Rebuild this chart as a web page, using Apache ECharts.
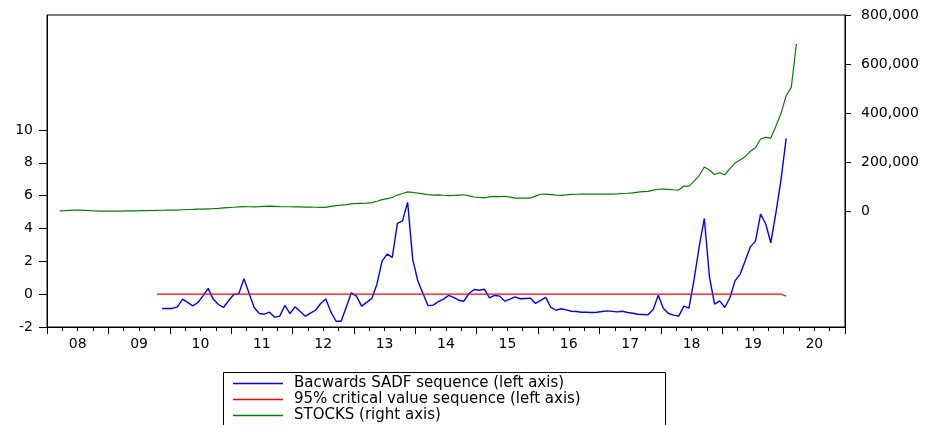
<!DOCTYPE html>
<html>
<head>
<meta charset="utf-8">
<script src="https://cdn.jsdelivr.net/npm/echarts@6/dist/echarts.min.js"></script>
<style>html,body{margin:0;padding:0;background:#fff}#c{width:943px;height:425px}</style>
</head>
<body>
<div id="c"></div>
<script>
// ---- data (monthly observations) ----
const sadfStart = [2009, 11];
const sadf = [
  -0.87,-0.87,-0.87,-0.77,-0.30,-0.50,-0.71,-0.51,-0.10,0.35,-0.30,-0.63,
  -0.81,-0.40,-0.02,0.02,0.94,0.05,-0.81,-1.18,-1.22,-1.10,-1.40,-1.34,
  -0.69,-1.18,-0.77,-1.05,-1.34,-1.16,-0.98,-0.57,-0.30,-1.08,-1.65,-1.65,
  -0.80,0.08,-0.12,-0.73,-0.50,-0.26,0.61,2.01,2.44,2.24,4.31,4.47,
  5.59,2.10,0.80,0.04,-0.70,-0.67,-0.45,-0.30,-0.08,-0.20,-0.37,-0.43,
  0.04,0.28,0.24,0.30,-0.22,-0.08,-0.12,-0.43,-0.30,-0.16,-0.28,-0.26,
  -0.24,-0.57,-0.38,-0.20,-0.81,-0.98,-0.89,-0.96,-1.04,-1.06,-1.10,-1.10,
  -1.12,-1.10,-1.06,-1.02,-1.05,-1.08,-1.04,-1.12,-1.16,-1.22,-1.24,-1.26,
  -0.93,-0.06,-0.87,-1.18,-1.28,-1.34,-0.73,-0.85,0.90,2.90,4.61,1.06,
  -0.61,-0.41,-0.81,-0.22,0.81,1.22,2.03,2.88,3.23,4.88,4.27,3.13,
  4.96,6.99,9.49
];
const critStart = [2009, 10];
const crit = [
  0,0,0,0,0,0,0,0,0,0,0,0,
  0,0,0,0,0,0,0,0,0,0,0,0,
  0,0,0,0,0,0,0,0,0,0,0,0,
  0,0,0,0,0,0,0,0,0,0,0,0,
  0,0,0,0,0,0,0,0,0,0,0,0,
  0,0,0,0,0,0,0,0,0,0,0,0,
  0,0,0,0,0,0,0,0,0,0,0,0,
  0,0,0,0,0,0,0,0,0,0,0,0,
  0,0,0,0,0,0,0,0,0,0,0,0,
  0,0,0,0,0,0,0,0,0,0,0,0,
  0,0,0,-0.12
];
const stocksStart = [2008, 3];
const stocks = [
  1200,2000,2900,3700,3700,2900,1600,400,0,0,
  0,0,0,400,800,1200,1600,2000,2400,2900,3300,3700,
  4100,4100,5300,6500,6900,7800,8200,9000,9800,11000,12700,14300,
  15500,17100,18400,17600,17100,18000,19200,20400,19200,18000,17600,17600,
  17100,17100,16300,15900,15500,15100,15100,18800,22000,24100,26500,29400,
  31000,31800,32700,34300,40000,46500,51000,55500,65300,71800,78400,75900,
  73100,70200,66900,65300,66100,64500,63300,63700,65300,66500,62000,57500,
  55500,53900,58000,59600,58800,60400,57100,53100,53100,53100,53100,61200,
  68600,69400,67300,65300,64100,66100,68200,68600,69000,69400,69400,69400,
  69400,69400,69400,70200,71800,72700,74300,77600,79200,80400,85700,89000,
  89800,88600,86900,85700,102000,102000,122400,144900,179600,167300,149000,156300,
  148200,173500,195900,208200,222400,243700,258400,293900,300800,298000,346900,398800,
  470600,504900,681600
];
const xYears = [2008,2009,2010,2011,2012,2013,2014,2015,2016,2017,2018,2019,2020,2021];
const xLabels = ['08','09','10','11','12','13','14','15','16','17','18','19','20'];
const leftTicks = [-2,0,2,4,6,8,10];
const rightTicks = [0,200000,400000,600000,800000];
const names = ['Bacwards SADF sequence (left axis)','95% critical value sequence (left axis)','STOCKS (right axis)'];

function toPoints(start, vals) {
  return vals.map((v, i) => [start[0] + (start[1] - 1 + i + 0.5) / 12, v]);
}
const labelPos = xLabels.map((_, i) => xYears[i] + 0.5);
const FONT = 'DejaVu Sans';

const chart = echarts.init(document.getElementById('c'), null, {renderer: 'canvas'});
chart.setOption({
  animation: false,
  backgroundColor: '#fff',
  grid: {left: 47, right: 98, top: 15, bottom: 98, show: true, borderColor: '#000', borderWidth: 1, backgroundColor: 'transparent'},
  graphic: [{
    type: 'rect', left: 223, top: 372, z: -1, silent: true,
    shape: {width: 442, height: 70},
    style: {fill: '#fff', stroke: '#000', lineWidth: 1}
  }],
  legend: {
    type: 'plain', orient: 'vertical', left: 223, top: 373, height: 80,
    data: names,
    icon: 'rect', itemWidth: 50, itemHeight: 1.5, itemGap: 1,
    padding: [3, 10, 12, 10],
    borderWidth: 0,
    textStyle: {fontFamily: FONT, fontSize: 15, color: '#000', padding: [0, 0, 0, 6]}
  },
  xAxis: {
    type: 'value', min: 2008, max: 2021, interval: 1,
    axisLine: {show: true, onZero: false, lineStyle: {color: '#000', width: 1}},
    axisTick: {show: true, length: 7, customValues: xYears, lineStyle: {color: '#000'}},
    minorTick: {show: true, splitNumber: 4, length: 4, lineStyle: {color: '#000'}},
    axisLabel: {
      customValues: labelPos, margin: 10, color: '#000', fontFamily: FONT, fontSize: 14,
      formatter: v => xLabels[Math.round(v - 0.5) - 2008]
    },
    splitLine: {show: false}
  },
  yAxis: [
    {
      type: 'value', position: 'left', min: -2, max: 17,
      axisLine: {show: true, onZero: false, lineStyle: {color: '#000', width: 1}},
      axisTick: {show: true, length: 8, customValues: leftTicks, lineStyle: {color: '#000'}},
      axisLabel: {customValues: leftTicks, margin: 14, color: '#000', fontFamily: FONT, fontSize: 14},
      splitLine: {show: false}
    },
    {
      type: 'value', position: 'right', min: -473000, max: 800000,
      axisLine: {show: true, onZero: false, lineStyle: {color: '#000', width: 1}},
      axisTick: {show: true, length: 6, customValues: rightTicks, lineStyle: {color: '#000'}},
      axisLabel: {customValues: rightTicks, margin: 16, color: '#000', fontFamily: FONT, fontSize: 14,
        formatter: v => v.toLocaleString('en-US')},
      splitLine: {show: false}
    }
  ],
  series: [
    {name: names[0], type: 'line', yAxisIndex: 0, data: toPoints(sadfStart, sadf), showSymbol: false,
      color: '#0000ff', lineStyle: {color: '#0000ff', width: 1.4}},
    {name: names[1], type: 'line', yAxisIndex: 0, data: toPoints(critStart, crit), showSymbol: false,
      color: '#ff0000', lineStyle: {color: '#ff0000', width: 1.1}},
    {name: names[2], type: 'line', yAxisIndex: 1, data: toPoints(stocksStart, stocks), showSymbol: false,
      color: '#008000', lineStyle: {color: '#008000', width: 1.2}}
  ]
});
</script>
</body>
</html>
